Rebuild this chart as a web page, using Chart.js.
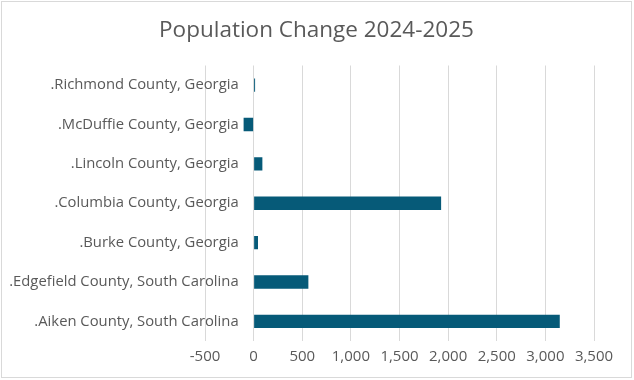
<!DOCTYPE html>
<html>
<head>
<meta charset="utf-8">
<script src="https://cdn.jsdelivr.net/npm/chart.js@4"></script>
<style>
    body { margin: 0; background: #fff; }
    #box {
        position: absolute; left: 1px; top: 1px;
        width: 629px; height: 375px;
        border: 1px solid #d9d9d9; background: #fff;
    }
</style>
</head>
<body>
<div id="box"><canvas id="myChart" width="629" height="375"></canvas></div>
<script>
const counties = [
    '.Richmond County, Georgia',
    '.McDuffie County, Georgia',
    '.Lincoln County, Georgia',
    '.Columbia County, Georgia',
    '.Burke County, Georgia',
    '.Edgefield County, South Carolina',
    '.Aiken County, South Carolina'
];
const change = [15, -103, 90, 1928, 45, 563, 3148];
const xTicks = [-500, 0, 500, 1000, 1500, 2000, 2500, 3000, 3500];

const ctx = document.getElementById('myChart');
const font = 'Open Sans, sans-serif';

// category labels sit next to the zero line, like Excel does it
const labelsAtZero = {
    id: 'labelsAtZero',
    afterDraw(chart) {
        const x = chart.scales.x.getPixelForValue(0) - 15;
        const y = chart.scales.y;
        const c = chart.ctx;
        c.save();
        c.font = '14.8px ' + font;
        c.fillStyle = '#595959';
        c.textAlign = 'right';
        c.textBaseline = 'middle';
        counties.forEach((name, i) => {
            c.fillText(name, x, y.getPixelForTick(i));
        });
        c.restore();
    }
};

new Chart(ctx, {
    type: 'bar',
    data: {
        labels: counties,
        datasets: [{
            label: 'Population Change',
            data: change,
            backgroundColor: '#065a78',
            barPercentage: 0.34,
            categoryPercentage: 1
        }]
    },
    options: {
        indexAxis: 'y',
        responsive: false,
        animation: false,
        layout: { padding: { top: 8, right: 37, bottom: 4, left: 37 } },
        plugins: {
            legend: { display: false },
            tooltip: { enabled: false },
            title: {
                display: true,
                text: 'Population Change 2024-2025',
                color: '#595959',
                font: { family: font, size: 22.5, weight: 'normal' },
                padding: { top: 7, bottom: 21.5 }
            }
        },
        scales: {
            x: {
                min: xTicks[0],
                max: xTicks[xTicks.length - 1],
                afterBuildTicks: axis => { axis.ticks = xTicks.map(v => ({ value: v })); },
                grid: { color: '#d9d9d9', drawTicks: false },
                border: { display: false },
                ticks: {
                    color: '#595959',
                    padding: 7,
                    font: { family: font, size: 15 },
                    callback: v => v.toLocaleString('en-US')
                }
            },
            y: {
                grid: { display: false },
                border: { display: false },
                afterFit: axis => { axis.width = 166; },
                ticks: { display: false }
            }
        }
    },
    plugins: [labelsAtZero]
});
</script>
</body>
</html>
